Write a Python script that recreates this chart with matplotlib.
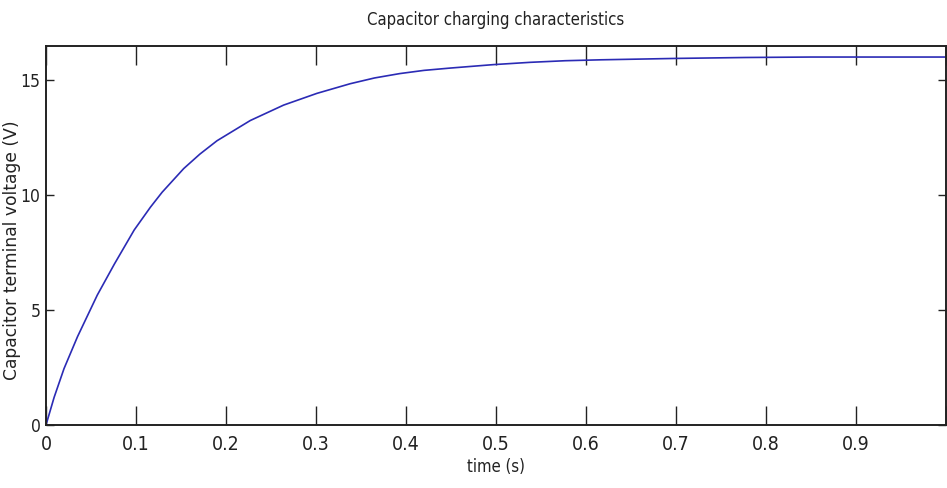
import matplotlib
matplotlib.use("Agg")
import matplotlib.pyplot as plt
from matplotlib import font_manager
from matplotlib.font_manager import FontProperties

# Capacitor voltage samples during charging
time_s = [0.0, 0.009, 0.020, 0.035, 0.057, 0.076, 0.098, 0.116, 0.129, 0.153,
          0.171, 0.190, 0.227, 0.264, 0.301, 0.338, 0.365, 0.393, 0.420, 0.449,
          0.497, 0.538, 0.577, 0.617, 0.700, 0.777, 0.850, 1.000]
voltage_v = [0.0, 1.20, 2.45, 3.84, 5.65, 7.00, 8.48, 9.47, 10.12, 11.15,
             11.78, 12.36, 13.24, 13.91, 14.42, 14.84, 15.09, 15.28, 15.42, 15.52,
             15.67, 15.77, 15.84, 15.88, 15.94, 15.98, 16.00, 16.00]

x_ticks = [0, 0.1, 0.2, 0.3, 0.4, 0.5, 0.6, 0.7, 0.8, 0.9, 1.0]
x_tick_labels = ["0", "0.1", "0.2", "0.3", "0.4", "0.5", "0.6", "0.7", "0.8", "0.9", ""]
y_ticks = [0, 5, 10, 15]
y_tick_labels = ["0", "5", "10", "15"]


def narrow_font(size):
    """Pick a condensed/narrow face if one is installed."""
    for f in font_manager.fontManager.ttflist:
        low = f.fname.lower()
        if ("narrow" in low or "condensed" in low) and "bold" not in low \
                and "oblique" not in low and "italic" not in low:
            return FontProperties(fname=f.fname, size=size)
    return FontProperties(family="Liberation Sans", size=size)


xtick_font = narrow_font(14)
ytick_font = narrow_font(12.5)
title_font = narrow_font(12)
label_font = narrow_font(12)

fig = plt.figure(figsize=(9.47, 4.88), dpi=100)
ax = fig.add_axes([46 / 947, 1 - 425 / 488, 900 / 947, (425 - 46) / 488])

ax.plot(time_s, voltage_v, color="#2b2bb5", linewidth=1.2)

ax.set_xlim(0, 1)
ax.set_ylim(0, 16.48)

ax.set_xticks(x_ticks)
ax.set_xticklabels(x_tick_labels, fontproperties=xtick_font)
ax.set_yticks(y_ticks)
ax.set_yticklabels(y_tick_labels, fontproperties=ytick_font)

ax.tick_params(axis="x", direction="in", length=14, width=1.0, top=True, pad=7, colors="#222222")
ax.tick_params(axis="y", direction="in", length=6, width=1.0, right=True, pad=4, colors="#222222")

for side in ax.spines.values():
    side.set_linewidth(1.4)
    side.set_color("#222222")

ax.set_title("Capacitor charging characteristics", fontproperties=title_font,
             pad=15, color="#222222")
ax.set_xlabel("time (s)", fontproperties=label_font, labelpad=3, color="#222222")
ax.set_ylabel("Capacitor terminal voltage (V)", family="DejaVu Sans",
              fontsize=12.3, color="#222222")
ax.yaxis.set_label_coords(-0.028, 0.462)

fig.savefig("out.png", dpi=100)
